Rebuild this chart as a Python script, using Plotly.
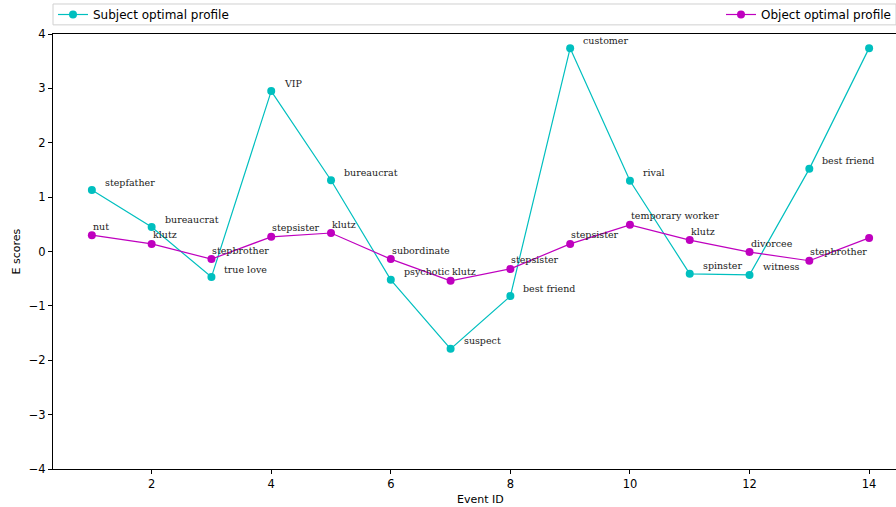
import plotly.graph_objects as go

event_ids = list(range(1, 15))
subject_scores = [1.13, 0.45, -0.47, 2.95, 1.31, -0.52, -1.79, -0.82, 3.74, 1.30, -0.41, -0.43, 1.52, 3.74]
object_scores = [0.30, 0.14, -0.14, 0.27, 0.34, -0.14, -0.54, -0.32, 0.14, 0.49, 0.21, -0.01, -0.17, 0.25]
subject_labels = ["stepfather", "bureaucrat", "true love", "VIP", "bureaucrat", "psychotic", "suspect",
                  "best friend", "customer", "rival", "spinster", "witness", "best friend", ""]
object_labels = ["nut", "klutz", "stepbrother", "stepsister", "klutz", "subordinate", "klutz",
                 "stepsister", "stepsister", "temporary worker", "klutz", "divorcee", "stepbrother", ""]

CYAN = "#00BFBF"
MAGENTA = "#BF00BF"

fig = go.Figure()
fig.add_trace(go.Scatter(x=event_ids, y=subject_scores, mode="lines+markers",
                         name="Subject optimal profile",
                         line=dict(color=CYAN, width=1.2), marker=dict(color=CYAN, size=8),
                         legend="legend"))
fig.add_trace(go.Scatter(x=event_ids, y=object_scores, mode="lines+markers",
                         name="Object optimal profile",
                         line=dict(color=MAGENTA, width=1.2), marker=dict(color=MAGENTA, size=8),
                         legend="legend2"))

annots = []
for x, y, t in zip(event_ids, subject_scores, subject_labels):
    if t:
        annots.append(dict(x=x, y=y, text=t, xref="x", yref="y", showarrow=False,
                           xanchor="left", yanchor="middle", xshift=11, yshift=8,
                           font=dict(family="DejaVu Serif", size=9.5, color="#222")))
for x, y, t in zip(event_ids, object_scores, object_labels):
    if t:
        annots.append(dict(x=x, y=y, text=t, xref="x", yref="y", showarrow=False,
                           xanchor="left", yanchor="middle", xshift=-1, yshift=9,
                           font=dict(family="DejaVu Serif", size=9.5, color="#222")))

# axis titles (x title centred on the full, cropped axis)
annots.append(dict(text="Event ID", xref="paper", yref="paper", x=0.5077, y=0, yshift=-30,
                   xanchor="center", yanchor="middle", showarrow=False,
                   font=dict(family="DejaVu Sans", size=11, color="black")))
annots.append(dict(text="E scores", xref="paper", yref="paper", x=0, xshift=-37, y=0.5,
                   xanchor="center", yanchor="middle", showarrow=False, textangle=-90,
                   font=dict(family="DejaVu Sans", size=11, color="black")))

fig.update_layout(
    width=896, height=507,
    margin=dict(l=53, r=0, t=34, b=38),
    plot_bgcolor="white", paper_bgcolor="white",
    font=dict(family="DejaVu Sans", size=11.5, color="black"),
    annotations=annots,
    showlegend=True,
    legend=dict(x=0.0, y=1.046, xanchor="left", yanchor="middle",
                bgcolor="rgba(0,0,0,0)", font=dict(size=12), itemwidth=30),
    legend2=dict(x=1.0, y=1.046, xanchor="right", yanchor="middle",
                 bgcolor="rgba(0,0,0,0)", font=dict(size=12), itemwidth=30),
    shapes=[dict(type="rect", xref="paper", yref="paper", x0=0.0, x1=1.0, y0=1.021, y1=1.069,
                 line=dict(color="#d0d0d0", width=1), fillcolor="rgba(0,0,0,0)")],
    xaxis=dict(range=[0.35, 14.45], tickvals=[2, 4, 6, 8, 10, 12, 14], showgrid=False, zeroline=False,
               showline=True, linecolor="black", linewidth=1, mirror=True,
               ticks="outside", ticklen=4, tickcolor="black"),
    yaxis=dict(range=[-4, 4], tickvals=[-4, -3, -2, -1, 0, 1, 2, 3, 4],
               ticktext=["\u22124", "\u22123", "\u22122", "\u22121", "0", "1", "2", "3", "4"],
               showgrid=False, zeroline=False,
               showline=True, linecolor="black", linewidth=1,
               ticks="outside", ticklen=4, tickcolor="black"),
)

fig.write_html("out.html", config={"displayModeBar": False},
               post_script="document.body.style.margin='0px';document.body.style.overflow='hidden';")
